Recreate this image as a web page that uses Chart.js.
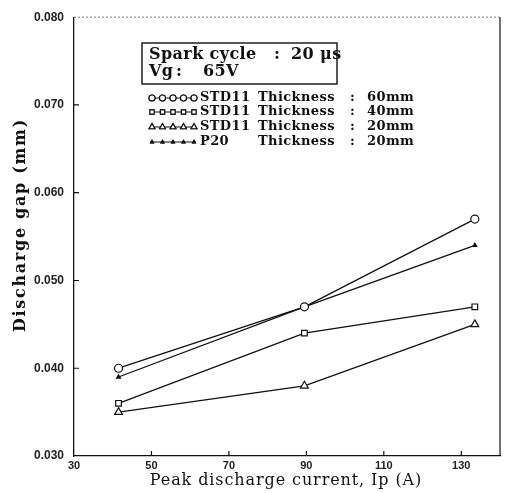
<!DOCTYPE html>
<html>
<head>
<meta charset="utf-8">
<script src="https://cdn.jsdelivr.net/npm/chart.js@4.4.1/dist/chart.umd.min.js"></script>
<style>
html,body{margin:0;padding:0;background:#fff;}
#wrap{width:508px;height:493px;}
</style>
</head>
<body>
<div id="wrap"><canvas id="c" width="508" height="493"></canvas></div>
<script>
// ---- data ----
const peakCurrent = [41.5, 89.5, 133.5];
const std11_60mm = [0.040, 0.047, 0.057];
const std11_40mm = [0.036, 0.044, 0.047];
const std11_20mm = [0.035, 0.038, 0.045];
const p20_20mm   = [0.039, 0.047, 0.054];
const xTickValues = [30, 50, 70, 90, 110, 130];
const yTickValues = [0.030, 0.040, 0.050, 0.060, 0.070, 0.080];
const seriesNames = ['STD11', 'STD11', 'STD11', 'P20'];
const seriesThickness = ['60mm', '40mm', '20mm', '20mm'];
const xTitle = 'Peak discharge current, Ip (A)';
const yTitle = 'Discharge gap (mm)';
const boxLine1 = ['Spark cycle', ':', '20 μs'];
const boxLine2 = ['Vg', ':', '65V'];

const toPts = ys => peakCurrent.map((x, i) => ({x, y: ys[i]}));
const ink = '#111';

function ds(label, ys, style, r, fill) {
  return {
    label, data: toPts(ys),
    borderColor: ink, borderWidth: 1.3,
    pointStyle: style, pointRadius: r, pointBorderWidth: 1.2,
    pointBorderColor: ink, pointBackgroundColor: fill,
    fill: false, tension: 0
  };
}

const datasets = [
  ds('STD11 60mm', std11_60mm, 'circle', 4, '#fff'),
  ds('STD11 40mm', std11_40mm, 'rect', 4, '#fff'),
  ds('STD11 20mm', std11_20mm, 'triangle', 4.5, '#fff'),
  ds('P20 20mm', p20_20mm, 'triangle', 2.2, ink)
];

const overlay = {
  id: 'overlay',
  afterDraw(chart) {
    const ctx = chart.ctx;
    const a = chart.chartArea;
    const xs = chart.scales.x, ys = chart.scales.y;
    ctx.save();
    // inward tick marks
    ctx.strokeStyle = ink; ctx.lineWidth = 1.2;
    ctx.beginPath();
    yTickValues.forEach(v => {
      const py = ys.getPixelForValue(v);
      if (py > a.top + 2 && py < a.bottom - 2) { ctx.moveTo(a.left, py); ctx.lineTo(a.left + 5, py); }
    });
    xTickValues.forEach(v => {
      const px = xs.getPixelForValue(v);
      if (px > a.left + 2) { ctx.moveTo(px, a.bottom); ctx.lineTo(px, a.bottom - 5); }
    });
    ctx.stroke();
    // right border
    ctx.beginPath(); ctx.moveTo(a.right, a.top); ctx.lineTo(a.right, a.bottom); ctx.stroke();
    // dotted top border
    ctx.setLineDash([2, 2]); ctx.lineWidth = 0.8; ctx.strokeStyle = '#555';
    ctx.beginPath(); ctx.moveTo(a.left, a.top); ctx.lineTo(a.right, a.top); ctx.stroke();
    ctx.setLineDash([]);

    // condition box
    ctx.strokeStyle = ink; ctx.lineWidth = 1.4;
    ctx.strokeRect(142, 43, 195, 41);
    ctx.fillStyle = ink;
    ctx.textBaseline = 'middle'; ctx.textAlign = 'left';
    ctx.font = 'bold 16px "DejaVu Serif"';
    ctx.letterSpacing = '0.4px';
    ctx.fillText(boxLine1[0], 149, 55);
    ctx.fillText(boxLine1[1], 274, 55);
    ctx.fillText(boxLine1[2], 291, 55);
    ctx.fillText(boxLine2[0], 149, 72);
    ctx.fillText(boxLine2[1], 176, 72);
    ctx.fillText(boxLine2[2], 203, 72);

    // legend
    const rows = [98, 112, 127, 142];
    ctx.font = 'bold 13px "DejaVu Serif"';
    ctx.letterSpacing = '0.4px';
    chart.data.datasets.forEach((d, i) => {
      const y = rows[i];
      ctx.strokeStyle = ink; ctx.lineWidth = 1.1;
      ctx.beginPath(); ctx.moveTo(150, y); ctx.lineTo(196, y); ctx.stroke();
      for (let k = 0; k < 5; k++) {
        const px = 152 + k * 10.5;
        Chart.helpers.drawPoint(ctx, {
          pointStyle: d.pointStyle, radius: d.pointRadius * 0.75, borderWidth: 1
        }, px, y);
        ctx.fillStyle = d.pointBackgroundColor; ctx.fill();
        ctx.strokeStyle = ink; ctx.stroke();
      }
      ctx.fillStyle = ink;
      ctx.fillText(seriesNames[i], 200, y);
      ctx.fillText('Thickness', 258, y);
      ctx.fillText(':', 350, y);
      ctx.fillText(seriesThickness[i], 367, y);
    });

    // axis titles
    ctx.font = '16px "DejaVu Serif"';
    ctx.letterSpacing = '0.9px';
    ctx.textAlign = 'center';
    ctx.fillText(xTitle, 286, 481);
    ctx.save();
    ctx.translate(21, 225);
    ctx.rotate(-Math.PI / 2);
    ctx.letterSpacing = '1.7px';
    ctx.font = 'bold 16px "DejaVu Serif"';
    ctx.fillText(yTitle, 0, 0);
    ctx.restore();
    ctx.restore();
  }
};

new Chart(document.getElementById('c'), {
  type: 'line',
  data: { datasets },
  options: {
    responsive: false,
    animation: false,
    layout: { padding: { top: 10, right: 8, left: 0, bottom: 0 } },
    plugins: { legend: { display: false }, tooltip: { enabled: false } },
    scales: {
      x: {
        type: 'linear', min: 30, max: 140,
        afterBuildTicks: s => { s.ticks = xTickValues.map(v => ({value: v})); },
        afterFit: s => { s.height = 37; },
        grid: { drawOnChartArea: false, drawTicks: false },
        border: { color: ink, width: 1.3 },
        ticks: { padding: 3, color: '#222', font: { family: '"Liberation Sans"', size: 11, weight: 'bold' }, callback: v => String(v) }
      },
      y: {
        type: 'linear', min: 0.03, max: 0.08,
        afterBuildTicks: s => { s.ticks = yTickValues.map(v => ({value: v})); },
        afterFit: s => { s.width = 74; },
        grid: { drawOnChartArea: false, drawTicks: false },
        border: { color: ink, width: 1.3 },
        ticks: { padding: 10, color: '#222', font: { family: '"Liberation Sans"', size: 12, weight: 'bold' }, callback: v => v.toFixed(3) }
      }
    }
  },
  plugins: [overlay]
});
</script>
</body>
</html>
